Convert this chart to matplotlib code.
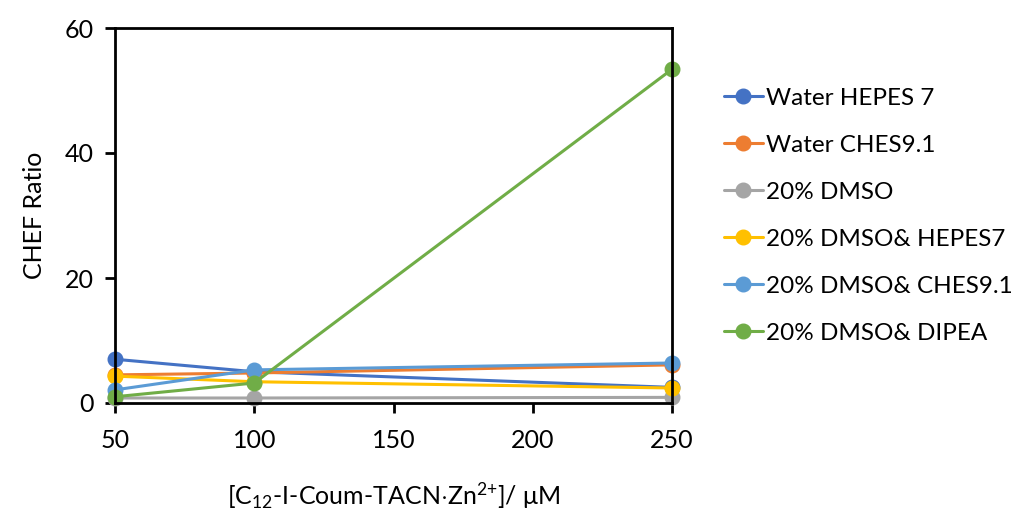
import matplotlib
matplotlib.use("Agg")
import matplotlib.pyplot as plt

plt.rcParams['font.family'] = ['Lato', 'DejaVu Sans']
plt.rcParams['mathtext.fontset'] = 'custom'
plt.rcParams['mathtext.rm'] = 'Lato'
plt.rcParams['mathtext.it'] = 'Lato'

concentration = [50, 100, 250]
series_names = ["Water HEPES 7", "Water CHES9.1", "20% DMSO",
                "20% DMSO& HEPES7", "20% DMSO& CHES9.1", "20% DMSO& DIPEA"]
water_hepes7 = [7.0, 5.0, 2.5]
water_ches91 = [4.5, 4.8, 6.1]
dmso20 = [0.8, 0.8, 0.9]
dmso20_hepes7 = [4.3, 3.4, 2.4]
dmso20_ches91 = [2.1, 5.3, 6.4]
dmso20_dipea = [1.0, 3.2, 53.4]
colors = ["#4472C4", "#ED7D31", "#A5A5A5", "#FFC000", "#5B9BD5", "#70AD47"]

series = [water_hepes7, water_ches91, dmso20, dmso20_hepes7, dmso20_ches91, dmso20_dipea]

fig = plt.figure(figsize=(10.25, 5.13), dpi=100)
ax = fig.add_axes([115/1025, 1 - 403/513, (672-115)/1025, (403-28)/513])

handles = []
for name, vals, c in zip(series_names, series, colors):
    h, = ax.plot(concentration, vals, color=c, lw=2.2, marker='o', markersize=10.5,
                 label=name, solid_capstyle='round', clip_on=False)
    handles.append(h)

ax.set_xlim(50, 250)
ax.set_ylim(0, 60)
ax.set_xticks([50, 100, 150, 200, 250])
ax.set_yticks([0, 20, 40, 60])
for s in ax.spines.values():
    s.set_linewidth(2)
    s.set_color('black')
ax.tick_params(axis='both', labelsize=18, width=2, length=7, direction='out')
ax.tick_params(axis='x', pad=12)
ax.tick_params(axis='y', pad=8)
ax.set_xlabel(r"[C$_{\mathrm{12}}$-I-Coum-TACN$\cdot$Zn$^{\text{2+}}$]/ μM", fontsize=18, labelpad=20)
ax.set_ylabel("CHEF Ratio", fontsize=18, labelpad=14)

fig.legend(handles=handles, loc='upper left', bbox_to_anchor=(714/1025, 1 - 78/513),
           frameon=False, fontsize=17.5, handlelength=1.6, handletextpad=0.15,
           labelspacing=1.07, borderaxespad=0)

fig.savefig("out.png", dpi=100)
